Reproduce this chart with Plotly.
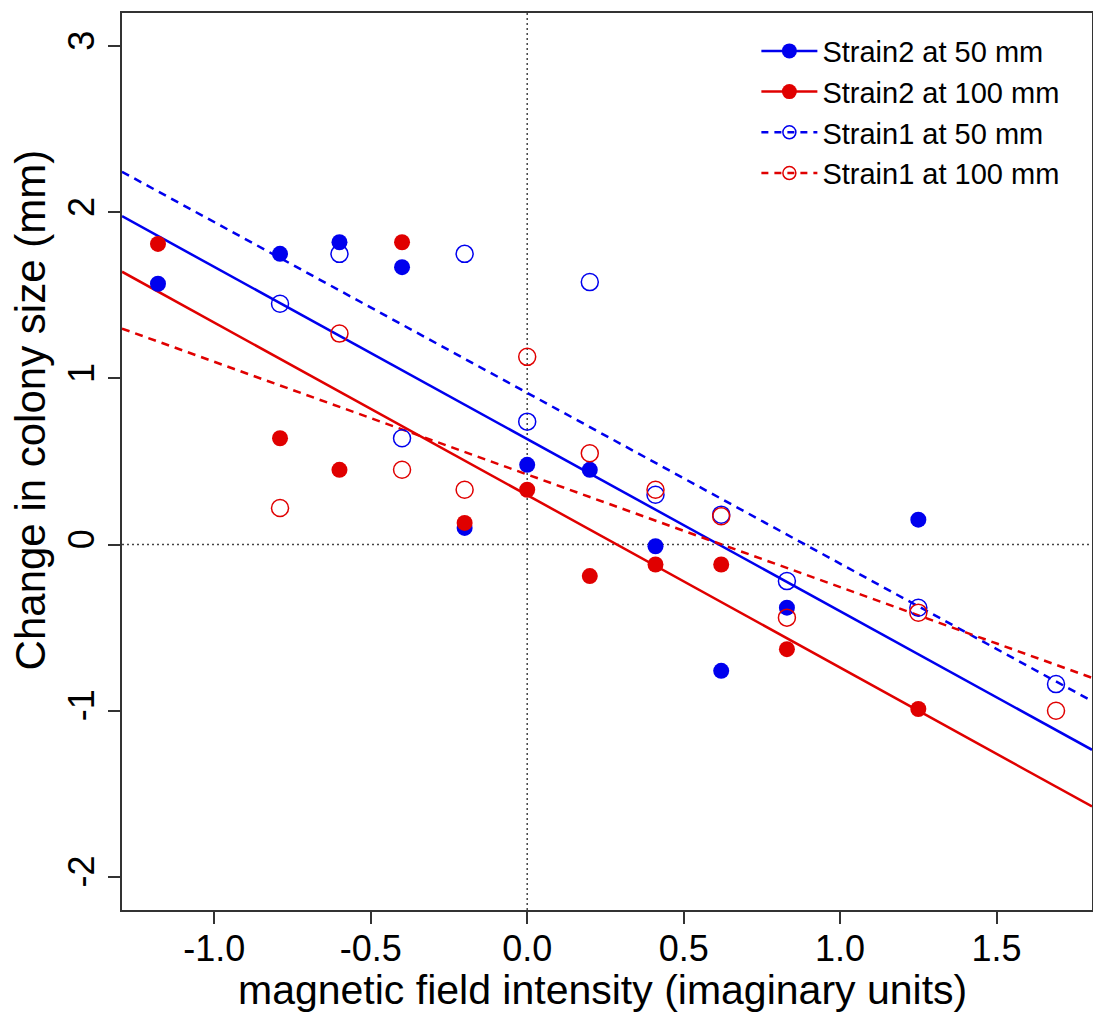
import numpy as np
import plotly.graph_objects as go

# ---------------- data ----------------
x_strain2 = [-1.18, -0.79, -0.60, -0.40, -0.20, 0.00, 0.20, 0.41, 0.62, 0.83, 1.25]
y_strain2_50 = [1.57, 1.75, 1.82, 1.67, 0.10, 0.48, 0.45, -0.01, -0.76, -0.38, 0.15]
y_strain2_100 = [1.81, 0.64, 0.45, 1.82, 0.13, 0.33, -0.19, -0.12, -0.12, -0.63, -0.99]

x_strain1 = [-0.79, -0.60, -0.40, -0.20, 0.00, 0.20, 0.41, 0.62, 0.83, 1.25, 1.69]
y_strain1_50 = [1.45, 1.75, 0.64, 1.75, 0.74, 1.58, 0.30, 0.18, -0.22, -0.38, -0.84]
y_strain1_100 = [0.22, 1.27, 0.45, 0.33, 1.13, 0.55, 0.33, 0.17, -0.44, -0.41, -1.00]

series_names = ["Strain2 at 50 mm", "Strain2 at 100 mm", "Strain1 at 50 mm", "Strain1 at 100 mm"]
x_ticks = [-1.0, -0.5, 0.0, 0.5, 1.0, 1.5]
x_tick_labels = ["-1.0", "-0.5", "0.0", "0.5", "1.0", "1.5"]
y_ticks = [-2, -1, 0, 1, 2, 3]
y_tick_labels = ["-2", "-1", "0", "1", "2", "3"]
x_title = "magnetic field intensity (imaginary units)"
y_title = "Change in colony size (mm)"

X_RANGE = [-1.295, 1.805]
Y_RANGE = [-2.2, 3.2]

BLUE = "#0000EE"
RED = "#E00000"
AXIS = "#333333"
FONT = "Liberation Sans, Arial, sans-serif"

fig = go.Figure()

series = [
    (x_strain2, y_strain2_50, BLUE, "circle", "solid", series_names[0]),
    (x_strain2, y_strain2_100, RED, "circle", "solid", series_names[1]),
    (x_strain1, y_strain1_50, BLUE, "circle-open", "8px,6px", series_names[2]),
    (x_strain1, y_strain1_100, RED, "circle-open", "8px,6px", series_names[3]),
]

# regression lines (spanning the full axis range)
for xs, ys, col, sym, dash, name in series:
    slope, icpt = np.polyfit(np.array(xs), np.array(ys), 1)
    xl = np.array(X_RANGE)
    fig.add_trace(go.Scatter(
        x=xl, y=slope * xl + icpt, mode="lines",
        line=dict(color=col, width=2.5, dash=dash),
        showlegend=False, hoverinfo="skip"))

# points
for xs, ys, col, sym, dash, name in series:
    if sym == "circle":
        marker = dict(symbol=sym, size=16, color=col)
    else:
        marker = dict(symbol=sym, size=17, color=col, line=dict(color=col, width=1.5))
    fig.add_trace(go.Scatter(x=xs, y=ys, mode="markers", marker=marker,
                             showlegend=False, cliponaxis=False))

# legend entries (line + marker symbol)
for xs, ys, col, sym, dash, name in series:
    if sym == "circle":
        marker = dict(symbol=sym, size=15, color=col)
    else:
        marker = dict(symbol=sym, size=13, color=col, line=dict(color=col, width=1.5))
    fig.add_trace(go.Scatter(x=[None], y=[None], mode="lines+markers", name=name,
                             marker=marker,
                             line=dict(color=col, width=2.5,
                                       dash="solid" if dash == "solid" else "7px,6px")))

# dotted reference lines at 0
fig.add_shape(type="line", xref="paper", yref="y", x0=0, x1=1, y0=0, y1=0,
              line=dict(color="#444444", width=1.5, dash="2px,3px"), layer="below")
fig.add_shape(type="line", xref="x", yref="paper", x0=0, x1=0, y0=0, y1=1,
              line=dict(color="#444444", width=1.5, dash="2px,3px"), layer="below")

# axis titles as annotations (pixel-placed relative to plot area)
fig.add_annotation(text=x_title, xref="paper", yref="paper",
                   x=0.495, y=-0.0892, xanchor="center", yanchor="middle",
                   showarrow=False, font=dict(size=41, family=FONT, color="black"))
fig.add_annotation(text=y_title, xref="paper", yref="paper",
                   x=-0.0948, y=0.557, xanchor="center", yanchor="middle",
                   textangle=-90, showarrow=False,
                   font=dict(size=42, family=FONT, color="black"))

fig.update_layout(
    width=1093, height=1012,
    margin=dict(l=122, r=1, t=13, b=102, autoexpand=False),
    paper_bgcolor="white", plot_bgcolor="white",
    font=dict(family=FONT, color="black"),
    showlegend=True,
    legend=dict(x=0.654, xanchor="left", y=0.986, yanchor="top",
                bgcolor="rgba(255,255,255,0)", borderwidth=0,
                font=dict(size=29, family=FONT, color="black"),
                itemwidth=56, tracegroupgap=0),
    xaxis=dict(range=X_RANGE, tickvals=x_ticks, ticktext=x_tick_labels,
               automargin=False,
               showgrid=False, zeroline=False, showline=True, mirror=True,
               linecolor=AXIS, linewidth=1.5,
               ticks="outside", ticklen=12, tickwidth=1.5, tickcolor=AXIS,
               ticklabelstandoff=-6,
               tickfont=dict(size=36, family=FONT)),
    yaxis=dict(range=Y_RANGE, tickvals=y_ticks, ticktext=y_tick_labels,
               automargin=False,
               showgrid=False, zeroline=False, showline=True, mirror=True,
               linecolor=AXIS, linewidth=1.5,
               ticks="outside", ticklen=12, tickwidth=1.5, tickcolor=AXIS,
               tickangle=-90,
               tickfont=dict(size=36, family=FONT)),
)

fig.write_html("out.html",
               config={"displayModeBar": False},
               post_script="document.body.style.margin='0';document.body.style.padding='0';")
